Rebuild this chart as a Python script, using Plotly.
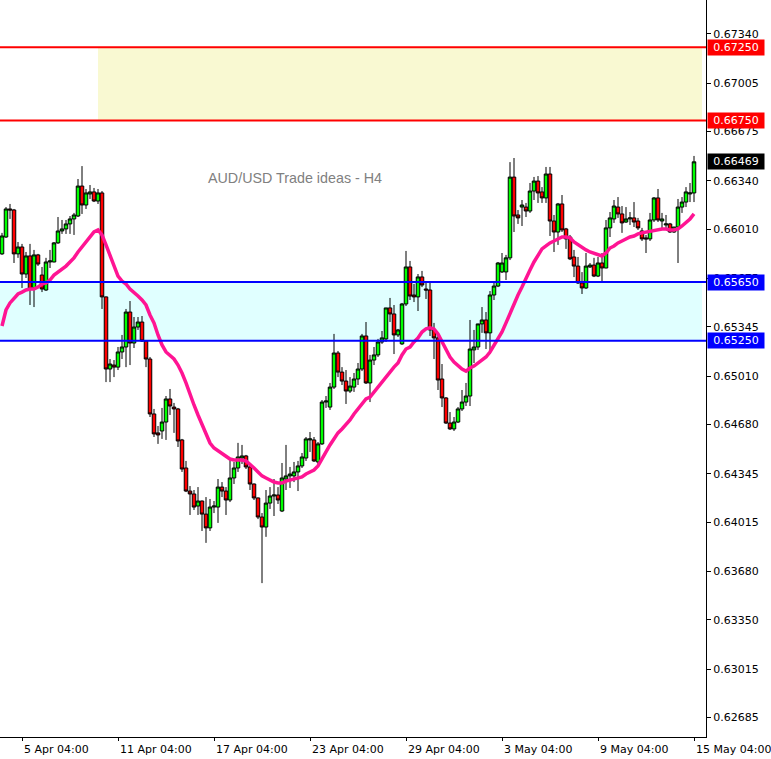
import plotly.graph_objects as go

# ---------------- data (H4 bars, oldest -> newest) ----------------
open_ = [0.65842,0.65957,0.66148,0.66141,0.65842,0.65889,0.65705,0.65828,0.65610,0.65835,
         0.65698,0.65596,0.65787,0.65787,0.65917,0.65998,0.66012,0.66046,0.66080,0.66100,
         0.66304,0.66175,0.66250,0.66264,0.66202,0.66257,0.65549,0.65058,0.65085,0.65071,
         0.65174,0.65208,0.65446,0.65235,0.65344,0.65378,0.65249,0.65126,0.64752,0.64623,
         0.64636,0.64697,0.64854,0.64799,0.64786,0.64575,0.64384,0.64227,0.64207,0.64125,
         0.64159,0.64070,0.63976,0.64118,0.64118,0.64254,0.64227,0.64166,0.64316,0.64384,
         0.64452,0.64466,0.64391,0.64275,0.64180,0.64050,0.63982,0.64145,0.64193,0.64200,
         0.64091,0.64309,0.64330,0.64330,0.64357,0.64398,0.64452,0.64575,0.64575,0.64425,
         0.64548,0.64833,0.64799,0.64935,0.65167,0.65037,0.64976,0.64908,0.64935,0.64990,
         0.65058,0.65283,0.64963,0.65119,0.65154,0.65242,0.65263,0.65474,0.65433,0.65290,
         0.65229,0.65501,0.65753,0.65562,0.65549,0.65685,0.65603,0.65596,0.65324,0.65270,
         0.64990,0.64861,0.64690,0.64650,0.64697,0.64786,0.64833,0.64874,0.65188,0.65208,
         0.65365,0.65392,0.65304,0.65562,0.65623,0.65719,0.65719,0.65815,0.66365,0.66107,
         0.66161,0.66161,0.66134,0.66270,0.66338,0.66264,0.66223,0.66386,0.66066,0.65991,
         0.66182,0.66012,0.65957,0.65821,0.65759,0.65644,0.65610,0.65753,0.65766,0.65691,
         0.65780,0.65746,0.66019,0.66080,0.66161,0.66114,0.66059,0.66080,0.66087,0.66066,
         0.65998,0.65951,0.65944,0.66073,0.66223,0.66066,0.66039,0.66046,0.65991,0.66025,
         0.66161,0.66195,0.66250,0.66257]
high = [0.65985,0.66161,0.66182,0.66148,0.65923,0.65910,0.65855,0.65910,0.65869,0.65842,
        0.65753,0.65815,0.65869,0.65923,0.66093,0.66073,0.66073,0.66100,0.66121,0.66352,
        0.66440,0.66284,0.66311,0.66291,0.66284,0.66270,0.65552,0.65126,0.65119,0.65208,
        0.65290,0.65467,0.65521,0.65412,0.65412,0.65419,0.65252,0.65140,0.64786,0.64670,
        0.64793,0.64874,0.64922,0.64827,0.64793,0.64582,0.64432,0.64261,0.64234,0.64254,
        0.64162,0.64186,0.64173,0.64159,0.64309,0.64288,0.64254,0.64445,0.64425,0.64555,
        0.64541,0.64473,0.64418,0.64278,0.64183,0.64077,0.64234,0.64254,0.64309,0.64254,
        0.64418,0.64541,0.64391,0.64425,0.64432,0.64486,0.64595,0.64629,0.64595,0.64561,
        0.64847,0.64874,0.64963,0.65297,0.65181,0.65071,0.65051,0.65003,0.65031,0.65099,
        0.65297,0.65378,0.65154,0.65208,0.65263,0.65317,0.65474,0.65542,0.65494,0.65331,
        0.65508,0.65862,0.65794,0.65637,0.65705,0.65726,0.65644,0.65644,0.65372,0.65290,
        0.65092,0.64867,0.64765,0.64731,0.64799,0.64915,0.64963,0.65392,0.65324,0.65358,
        0.65480,0.65446,0.65589,0.65650,0.65787,0.65848,0.65835,0.66467,0.66495,0.66141,
        0.66209,0.66189,0.66325,0.66366,0.66372,0.66297,0.66434,0.66434,0.66107,0.66189,
        0.66243,0.66019,0.65971,0.65869,0.65821,0.65718,0.65848,0.65780,0.65815,0.65821,
        0.65848,0.66073,0.66127,0.66209,0.66229,0.66168,0.66161,0.66127,0.66195,0.66087,
        0.66019,0.65971,0.66121,0.66229,0.66284,0.66121,0.66107,0.66053,0.66025,0.66216,
        0.66229,0.66297,0.66325,0.66509]
low = [0.65835,0.65951,0.66080,0.65780,0.65815,0.65610,0.65678,0.65494,0.65480,0.65760,
       0.65582,0.65590,0.65746,0.65785,0.65910,0.65978,0.65978,0.65978,0.65971,0.66093,
       0.66114,0.66148,0.66216,0.66195,0.66182,0.65467,0.64969,0.64969,0.65003,0.65051,
       0.65126,0.65071,0.65085,0.65201,0.65324,0.65242,0.65071,0.64731,0.64595,0.64548,
       0.64582,0.64575,0.64745,0.64623,0.64527,0.64357,0.64220,0.64064,0.64098,0.64064,
       0.63955,0.63874,0.63955,0.64077,0.64010,0.64186,0.64064,0.64152,0.64275,0.64357,
       0.64411,0.64377,0.64234,0.64166,0.64036,0.63600,0.63915,0.64105,0.64057,0.64139,
       0.64084,0.64234,0.64248,0.64288,0.64227,0.64384,0.64432,0.64493,0.64425,0.64391,
       0.64541,0.64793,0.64779,0.64922,0.65003,0.64949,0.64820,0.64895,0.64902,0.64949,
       0.65044,0.64956,0.64833,0.65085,0.65140,0.65229,0.65242,0.65378,0.65160,0.65276,
       0.65222,0.65487,0.65528,0.65514,0.65453,0.65616,0.65535,0.65283,0.65126,0.64915,
       0.64799,0.64684,0.64643,0.64636,0.64690,0.64772,0.64806,0.64806,0.65099,0.65188,
       0.65304,0.65194,0.65160,0.65528,0.65616,0.65712,0.65664,0.65800,0.65991,0.66046,
       0.66032,0.66093,0.66121,0.66209,0.66189,0.66189,0.66189,0.65964,0.65855,0.65903,
       0.65991,0.65876,0.65800,0.65684,0.65637,0.65569,0.65603,0.65746,0.65684,0.65684,
       0.65644,0.65744,0.65957,0.66053,0.66087,0.65985,0.66053,0.66039,0.66025,0.66005,
       0.65930,0.65848,0.65930,0.66059,0.66059,0.66005,0.66005,0.65985,0.65985,0.65780,
       0.66121,0.66161,0.66195,0.66195]
close = [0.65964,0.66148,0.66141,0.65842,0.65889,0.65705,0.65828,0.65603,0.65835,0.65773,
         0.65603,0.65787,0.65794,0.65917,0.65998,0.66012,0.66046,0.66080,0.66107,0.66304,
         0.66175,0.66257,0.66264,0.66202,0.66257,0.65549,0.65058,0.65092,0.65071,0.65174,
         0.65208,0.65446,0.65235,0.65344,0.65378,0.65249,0.65126,0.64752,0.64616,0.64609,
         0.64697,0.64854,0.64806,0.64786,0.64568,0.64377,0.64227,0.64207,0.64118,0.64159,
         0.64070,0.63976,0.64118,0.64125,0.64254,0.64227,0.64166,0.64316,0.64384,0.64459,
         0.64466,0.64391,0.64275,0.64180,0.64050,0.63982,0.64145,0.64193,0.64200,0.64166,
         0.64316,0.64330,0.64343,0.64357,0.64398,0.64459,0.64582,0.64582,0.64432,0.64548,
         0.64833,0.64840,0.64935,0.65167,0.65037,0.64976,0.64908,0.64942,0.64990,0.65058,
         0.65283,0.64963,0.65119,0.65154,0.65242,0.65270,0.65474,0.65433,0.65290,0.65324,
         0.65501,0.65753,0.65555,0.65549,0.65685,0.65630,0.65596,0.65324,0.65270,0.64983,
         0.64861,0.64690,0.64650,0.64697,0.64786,0.64833,0.64874,0.65194,0.65208,0.65365,
         0.65392,0.65304,0.65562,0.65623,0.65780,0.65780,0.65815,0.66365,0.66100,0.66087,
         0.66175,0.66134,0.66270,0.66338,0.66257,0.66223,0.66386,0.66066,0.65991,0.66182,
         0.66005,0.65944,0.65808,0.65759,0.65644,0.65610,0.65759,0.65766,0.65691,0.65780,
         0.65746,0.66019,0.66087,0.66168,0.66114,0.66053,0.66080,0.66087,0.66059,0.66019,
         0.65944,0.65944,0.66073,0.66223,0.66073,0.66080,0.66046,0.65991,0.66025,0.66161,
         0.66195,0.66264,0.66257,0.66469]
ma = [0.65351,0.65460,0.65508,0.65542,0.65569,0.65582,0.65596,0.65603,0.65603,0.65616,
      0.65637,0.65644,0.65664,0.65698,0.65718,0.65739,0.65759,0.65787,0.65815,0.65855,
      0.65889,0.65923,0.65957,0.65991,0.66005,0.65971,0.65903,0.65835,0.65753,0.65691,
      0.65657,0.65637,0.65603,0.65582,0.65555,0.65528,0.65494,0.65426,0.65372,0.65290,
      0.65222,0.65174,0.65147,0.65126,0.65085,0.65031,0.64963,0.64881,0.64813,0.64745,
      0.64677,0.64609,0.64554,0.64520,0.64500,0.64480,0.64459,0.64445,0.64438,0.64438,
      0.64438,0.64432,0.64404,0.64384,0.64357,0.64330,0.64316,0.64302,0.64288,0.64282,
      0.64282,0.64295,0.64302,0.64309,0.64316,0.64323,0.64343,0.64357,0.64370,0.64398,
      0.64452,0.64493,0.64541,0.64582,0.64623,0.64650,0.64677,0.64711,0.64752,0.64786,
      0.64820,0.64854,0.64867,0.64902,0.64935,0.64969,0.65003,0.65037,0.65071,0.65099,
      0.65154,0.65194,0.65208,0.65242,0.65270,0.65310,0.65331,0.65338,0.65331,0.65297,
      0.65242,0.65194,0.65140,0.65106,0.65078,0.65058,0.65044,0.65065,0.65078,0.65099,
      0.65113,0.65140,0.65174,0.65222,0.65263,0.65310,0.65372,0.65440,0.65501,0.65562,
      0.65616,0.65678,0.65732,0.65787,0.65835,0.65876,0.65896,0.65917,0.65930,0.65944,
      0.65957,0.65957,0.65951,0.65923,0.65903,0.65882,0.65869,0.65855,0.65848,0.65835,
      0.65828,0.65848,0.65882,0.65896,0.65917,0.65930,0.65944,0.65957,0.65964,0.65978,
      0.65985,0.65991,0.65998,0.66005,0.66012,0.66012,0.66012,0.66005,0.66005,0.66012,
      0.66032,0.66053,0.66080,0.66114]

x_tick_bars = [5, 29, 53, 77, 101, 125, 149, 173]
x_tick_labels = ["5 Apr 04:00", "11 Apr 04:00", "17 Apr 04:00", "23 Apr 04:00",
                 "29 Apr 04:00", "3 May 04:00", "9 May 04:00", "15 May 04:00"]
y_tick_vals = [0.67340, 0.67005, 0.66675, 0.66340, 0.66010, 0.65675, 0.65345, 0.65010,
               0.64680, 0.64345, 0.64015, 0.63680, 0.63350, 0.63015, 0.62685]
y_tick_text = ["%.5f" % v for v in y_tick_vals]

resistance = [0.66750, 0.67250]
support = [0.65250, 0.65650]
last_price = 0.66469
zone_start_bar = 24
title_text = "AUD/USD Trade ideas - H4"

x = list(range(len(close)))
X_MIN, X_MAX = -0.5, 176
Y_MIN, Y_MAX = 0.62552, 0.67571
FONT = "DejaVu Sans"

fig = go.Figure()

# zones
fig.add_shape(type="rect", xref="x", yref="y", x0=zone_start_bar, x1=X_MAX - 1,
              y0=resistance[0], y1=resistance[1], fillcolor="#F9F9D2", line_width=0, layer="below")
fig.add_shape(type="rect", xref="x", yref="y", x0=X_MIN, x1=X_MAX - 1,
              y0=support[0], y1=support[1], fillcolor="#E0FFFF", line_width=0, layer="below")
for lv in resistance:
    fig.add_shape(type="line", xref="paper", yref="y", x0=0, x1=1, y0=lv, y1=lv,
                  line=dict(color="#FF0000", width=2))
for lv in support:
    fig.add_shape(type="line", xref="paper", yref="y", x0=0, x1=1, y0=lv, y1=lv,
                  line=dict(color="#0000FF", width=2))

fig.add_trace(go.Candlestick(
    x=x, open=open_, high=high, low=low, close=close,
    increasing=dict(line=dict(color="black", width=1), fillcolor="#00FF00"),
    decreasing=dict(line=dict(color="black", width=1), fillcolor="#FF0000"),
    whiskerwidth=0, hoverinfo="skip", showlegend=False))

fig.add_trace(go.Scatter(x=x, y=ma, mode="lines", line=dict(color="#FF1493", width=3.5),
                         hoverinfo="skip", showlegend=False))

annotations = []
for b, t in zip(x_tick_bars, x_tick_labels):
    annotations.append(dict(x=b, xref="x", y=0, yref="paper", yanchor="top", xanchor="left",
                            yshift=-4, xshift=0, text=t, showarrow=False,
                            font=dict(family=FONT, size=11, color="black")))

def price_box(val, bg):
    return dict(x=1, xref="paper", y=val, yref="y", xanchor="left", yanchor="middle",
                xshift=1, text="%.5f" % val, showarrow=False, bgcolor=bg, borderpad=1,
                width=54, align="center", font=dict(family=FONT, size=11, color="white"))

for lv in resistance:
    annotations.append(price_box(lv, "#FF0000"))
for lv in support:
    annotations.append(price_box(lv, "#0000FF"))
annotations.append(price_box(last_price, "#000000"))

annotations.append(dict(x=206 / 706, xref="paper", y=1 - 178 / 737, yref="paper",
                        xanchor="left", yanchor="middle", text=title_text, showarrow=False,
                        font=dict(family="Liberation Sans", size=14.3, color="#808080")))

fig.update_layout(
    width=771, height=759,
    margin=dict(l=0, r=65, t=0, b=22),
    paper_bgcolor="white", plot_bgcolor="white",
    font=dict(family=FONT, size=11, color="black"),
    showlegend=False,
    boxgap=0.12, boxgroupgap=0,
    annotations=annotations,
    xaxis=dict(range=[X_MIN, X_MAX], rangeslider=dict(visible=False), showgrid=False,
               zeroline=False, showline=True, linecolor="black", linewidth=1,
               tickvals=x_tick_bars, showticklabels=False, ticks="outside", ticklen=3,
               tickcolor="black"),
    yaxis=dict(range=[Y_MIN, Y_MAX], side="right", showgrid=False, zeroline=False,
               showline=True, linecolor="black", linewidth=1, tickvals=y_tick_vals,
               ticktext=y_tick_text, ticks="outside", ticklen=4, tickcolor="black",
               tickfont=dict(family=FONT, size=11, color="black")),
)

fig.write_html("out.html", config={"displayModeBar": False},
               post_script="document.body.style.margin='0';document.body.style.padding='0';"
                           "document.body.style.overflow='hidden';")
